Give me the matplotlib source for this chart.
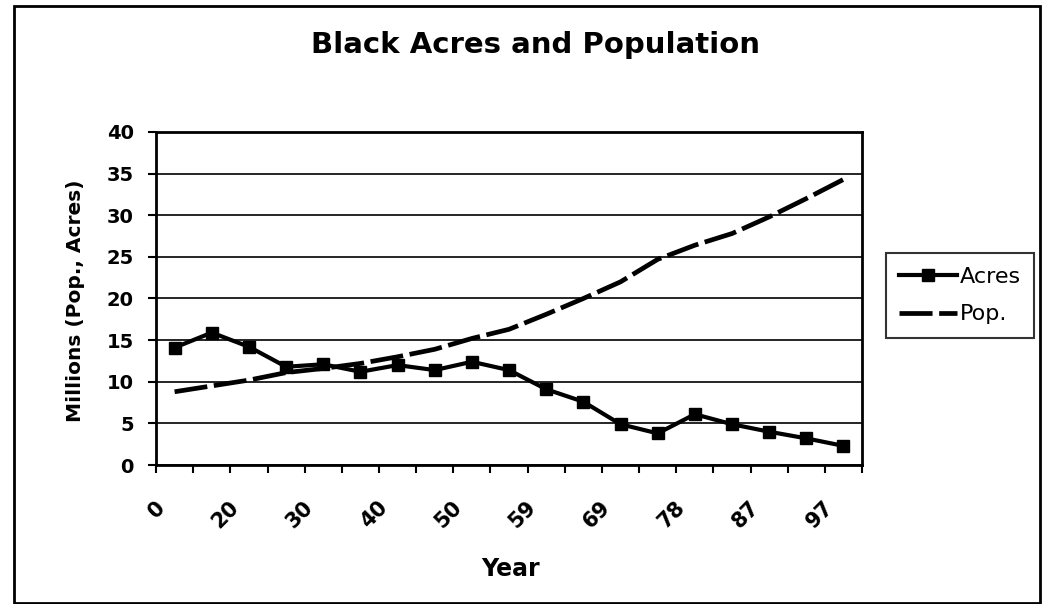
import matplotlib
matplotlib.use("Agg")
import matplotlib.pyplot as plt
from matplotlib.patches import Rectangle
from matplotlib.transforms import ScaledTranslation
import numpy as np

# Census of agriculture years (shown as 2-digit labels)
years = ["0", "10", "20", "25", "30", "35", "40", "45", "50", "54",
         "59", "64", "69", "74", "78", "82", "87", "92", "97"]
acres = [14.1, 15.9, 14.2, 11.8, 12.1, 11.2, 12.0, 11.4, 12.4, 11.4,
         9.1, 7.6, 4.9, 3.8, 6.1, 4.9, 4.0, 3.2, 2.3]
pop = [8.8, 9.5, 10.2, 11.1, 11.6, 12.2, 13.0, 13.9, 15.2, 16.3,
       18.1, 20.0, 22.0, 24.7, 26.4, 27.8, 29.8, 32.0, 34.3]
y_ticks = [0, 5, 10, 15, 20, 25, 30, 35, 40]

fig = plt.figure(figsize=(10.43, 6.04), dpi=100)
ax = fig.add_axes([0.1496, 0.2301, 0.6769, 0.5514])

x = np.arange(len(years))
l1, = ax.plot(x, acres, color="black", lw=3.0, marker="s", markersize=8.5,
              label="Acres")
l2, = ax.plot(x, pop, color="black", lw=3.4, dashes=(7, 1.4), label="Pop.")

# y axis
ax.set_ylim(0, 40)
ax.set_yticks(y_ticks)
ax.set_yticklabels([str(v) for v in y_ticks], fontsize=14, fontweight="bold")
ax.tick_params(axis="y", pad=10)
ax.yaxis.grid(True, color="black", lw=1.2)
ax.set_axisbelow(True)
ax.set_ylabel("Millions (Pop., Acres)", fontsize=14.5, fontweight="bold")
ax.yaxis.set_label_coords(-0.1, 0.494)

# x axis: ticks between categories, labels on every other category
ax.set_xlim(-0.5, len(years) - 0.5)
ax.set_xticks(np.arange(-0.5, len(years), 1))
ax.set_xticklabels([])
ax.set_xticks(x[::2], minor=True)
ax.set_xticklabels(years[::2], minor=True, rotation=45, fontsize=15,
                   fontweight="bold", ha="right", rotation_mode="anchor")
ax.tick_params(axis="x", which="minor", length=0, pad=14)
ax.tick_params(axis="both", which="major", length=6, width=1.5, direction="out")
shift = ScaledTranslation(-0.2, -0.13, fig.dpi_scale_trans)
for lab in ax.get_xticklabels(minor=True):
    lab.set_transform(lab.get_transform() + shift)
ax.set_xlabel("Year", fontsize=17, fontweight="bold")
ax.xaxis.set_label_coords(0.5014, -0.275)

for s in ax.spines.values():
    s.set_linewidth(2)

fig.text(0.513, 0.925, "Black Acres and Population", fontsize=21, fontweight="bold",
         ha="center", va="center")

leg = fig.legend(handles=[l1, l2], loc="center", bbox_to_anchor=(0.9204, 0.5108),
                 fontsize=16, frameon=True, fancybox=False, edgecolor="black",
                 handlelength=2.6, handletextpad=0.15, labelspacing=0.8,
                 borderpad=0.6, borderaxespad=0)
leg.get_frame().set_linewidth(1.5)

# outer chart border
fig.patches.append(Rectangle((0.0134, 0.0017), 0.9837, 0.988, transform=fig.transFigure,
                             fill=False, edgecolor="black", lw=2))

fig.savefig("out.png", dpi=100, facecolor="white")
